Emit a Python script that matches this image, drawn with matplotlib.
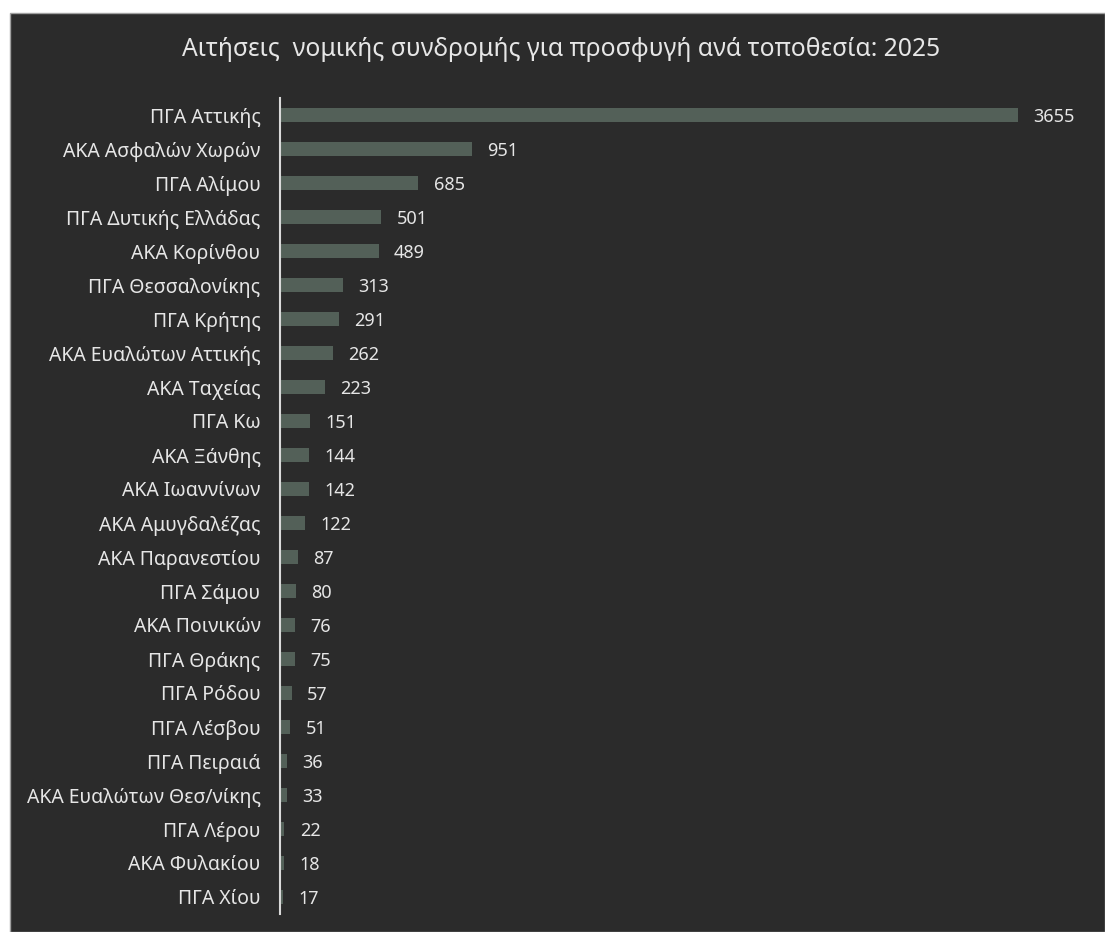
import matplotlib.pyplot as plt
from matplotlib.patches import Rectangle

plt.rcParams['font.family'] = ['Noto Sans', 'DejaVu Sans']

# data
locations = ['ΠΓΑ Αττικής', 'ΑΚΑ Ασφαλών Χωρών', 'ΠΓΑ Αλίμου', 'ΠΓΑ Δυτικής Ελλάδας',
             'ΑΚΑ Κορίνθου', 'ΠΓΑ Θεσσαλονίκης', 'ΠΓΑ Κρήτης', 'ΑΚΑ Ευαλώτων Αττικής',
             'ΑΚΑ Ταχείας', 'ΠΓΑ Κω', 'ΑΚΑ Ξάνθης', 'ΑΚΑ Ιωαννίνων', 'ΑΚΑ Αμυγδαλέζας',
             'ΑΚΑ Παρανεστίου', 'ΠΓΑ Σάμου', 'ΑΚΑ Ποινικών', 'ΠΓΑ Θράκης', 'ΠΓΑ Ρόδου',
             'ΠΓΑ Λέσβου', 'ΠΓΑ Πειραιά', 'ΑΚΑ Ευαλώτων Θεσ/νίκης', 'ΠΓΑ Λέρου',
             'ΑΚΑ Φυλακίου', 'ΠΓΑ Χίου']
requests = [3655, 951, 685, 501, 489, 313, 291, 262, 223, 151, 144, 142, 122,
            87, 80, 76, 75, 57, 51, 36, 33, 22, 18, 17]
title = 'Αιτήσεις  νομικής συνδρομής για προσφυγή ανά τοποθεσία: 2025'

bg = '#2b2b2b'
bar_col = '#536058'
txt = '#e6e6e6'

W, H = 1105, 932
fig = plt.figure(figsize=(W / 100, H / 100), dpi=100)
fig.patch.set_facecolor('white')
# dark panel with thin grey border, behind the axes
fig.add_artist(Rectangle((10 / W, 0), 1 - 10 / W, 1 - 13 / H, transform=fig.transFigure,
                         facecolor=bg, edgecolor='#a0a0a0', linewidth=1, zorder=-5))

ax = fig.add_axes([280 / W, 1 - 914 / H, (1018 - 280) / W, 816 / H])
ax.set_facecolor('none')
pos = list(range(len(locations)))
ax.barh(pos, requests, height=0.42, color=bar_col)
ax.set_xlim(0, max(requests))
ax.set_ylim(len(locations) - 0.5, -0.5)
ax.set_yticks(pos)
ax.set_yticklabels(locations, color=txt, fontsize=14)
ax.tick_params(axis='y', length=0, pad=14)
ax.set_xticks([])
for s in ['top', 'right', 'bottom']:
    ax.spines[s].set_visible(False)
ax.spines['left'].set_color('#d9d9d9')
ax.spines['left'].set_linewidth(1.5)

for p, v in zip(pos, requests):
    ax.annotate(str(v), (v, p), xytext=(11, 0), textcoords='offset points',
                va='center_baseline', ha='left', color=txt, fontsize=13,
                annotation_clip=False)

fig.text(561 / W, 1 - 50 / H, title, color=txt, fontsize=17.8, ha='center', va='center')

fig.savefig('out.png', dpi=100)
